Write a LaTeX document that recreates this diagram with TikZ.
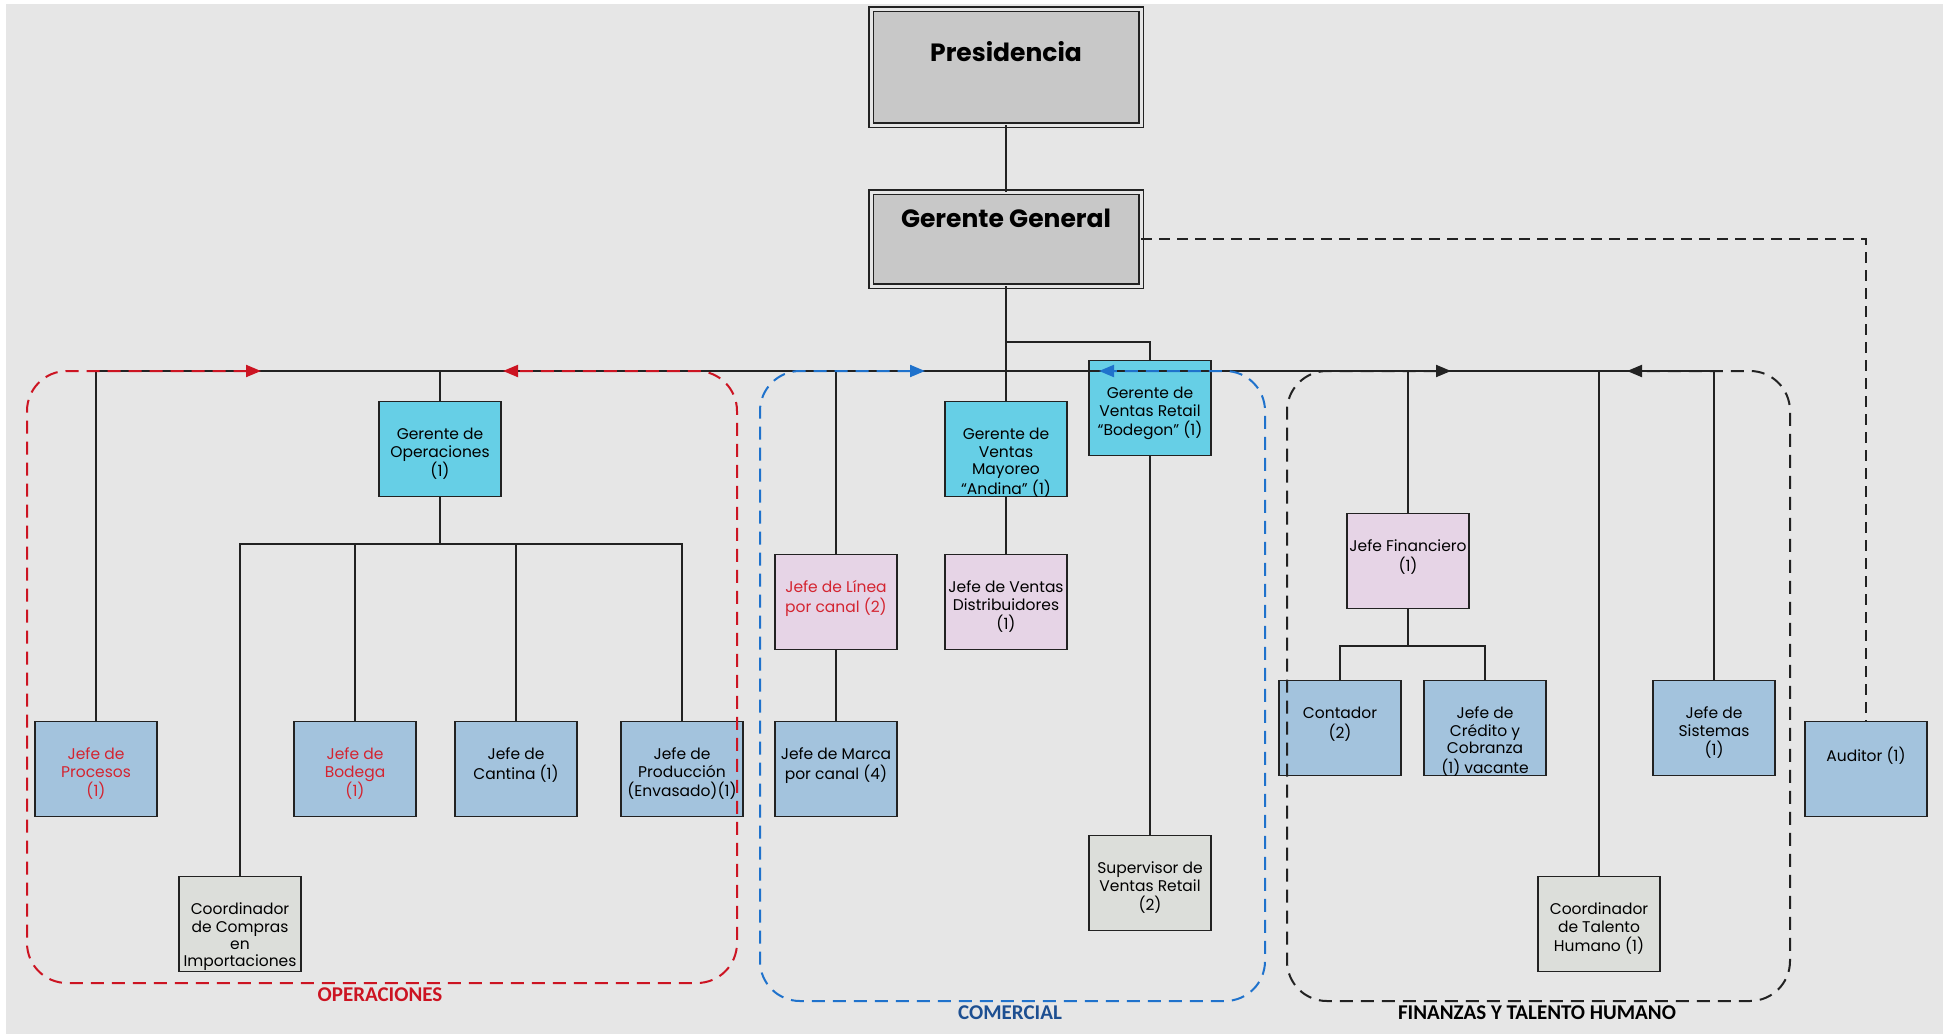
\documentclass[tikz,border=0pt]{standalone}
\usepackage{fontspec}
\setmainfont{Poppins}
\newfontfamily\capfont{Carlito}
\usetikzlibrary{arrows.meta}

\definecolor{bgc}{HTML}{E6E6E6}
\definecolor{gercol}{HTML}{66CFE6}
\definecolor{jefcol}{HTML}{A3C3DD}
\definecolor{pinkcol}{HTML}{E6D4E6}
\definecolor{grycol}{HTML}{DCDEDA}
\definecolor{topcol}{HTML}{C8C8C8}
\definecolor{opred}{HTML}{CC1422}
\definecolor{txtred}{HTML}{D42430}
\definecolor{comblue}{HTML}{1F72CC}
\definecolor{comlab}{HTML}{1D4F91}
\definecolor{edgecol}{HTML}{222222}

% text block: fixed-size box, lines centred and hung from the top
\newcommand\tbx[4]{\parbox[c][#1][t]{#2}{\vspace*{#3}\makebox[#2]{\begin{tabular}[t]{@{}c@{}}#4\end{tabular}}}}
\newcommand\tb[1]{\tbx{95pt}{122pt}{26pt}{#1}}

\begin{document}
\begin{tikzpicture}[x=1pt,y=-1pt,
  unit/.style={draw=edgecol, line width=1.4pt, inner sep=0pt, outer sep=0pt,
    minimum width=122pt, minimum height=95pt,
    font=\fontsize{15.5}{17.4}\selectfont},
  gerbox/.style={unit, fill=gercol},
  jefbox/.style={unit, fill=jefcol},
  pinkbox/.style={unit, fill=pinkcol},
  grybox/.style={unit, fill=grycol},
  topbox/.style={draw=edgecol, line width=1.5pt, double=gray!20, double distance=3pt,
    fill=topcol, inner sep=0pt, outer sep=0pt,
    font=\bfseries\fontsize{25}{30}\selectfont},
  link/.style={draw=edgecol, line width=1.6pt},
  frame/.style={line width=2pt, dash pattern=on 13pt off 8pt, rounded corners=40pt,
    {Triangle[length=15pt,width=12pt]}-{Triangle[length=15pt,width=12pt]}},
  grouplabel/.style={font=\capfont\bfseries\fontsize{21}{24}\selectfont}
]
% background
\fill[white] (0,0) rectangle (1948,1034);
\fill[bgc] (6,4) rectangle (1943,1034);
\useasboundingbox (0,0) rectangle (1948,1034);

% top of the hierarchy
\node[topbox, minimum width=270pt, minimum height=116pt] (presid) at (1006,67)
  {\tbx{116pt}{270pt}{31pt}{Presidencia}};
\node[topbox, minimum width=270pt, minimum height=94pt] (gg) at (1006,239)
  {\tbx{94pt}{270pt}{14pt}{Gerente General}};

% operaciones
\node[gerbox] (gop) at (440,449) {\tb{Gerente de\\Operaciones\\(1)}};
\node[jefbox, text=txtred] (jproc) at (96,769) {\tb{Jefe de\\Procesos\\(1)}};
\node[jefbox, text=txtred] (jbod) at (355,769) {\tb{Jefe de\\Bodega\\(1)}};
\node[jefbox] (jcant) at (516,769) {\tb{Jefe de\\Cantina (1)}};
\node[jefbox] (jprod) at (682,769) {\tb{Jefe de\\Producción\\(Envasado)(1)}};
\node[grybox] (ccomp) at (240,924) {\tb{Coordinador\\de Compras\\en\\Importaciones}};

% comercial
\node[pinkbox, text=txtred] (jlin) at (836,602) {\tb{Jefe de Línea\\por canal (2)}};
\node[jefbox] (jmar) at (836,769) {\tb{Jefe de Marca\\por canal (4)}};
\node[gerbox] (gmay) at (1006,449) {\tb{Gerente de\\Ventas\\Mayoreo\\“Andina” (1)}};
\node[pinkbox] (jvd) at (1006,602) {\tb{Jefe de Ventas\\Distribuidores\\(1)}};
\node[gerbox] (gret) at (1150,408) {\tb{Gerente de\\Ventas Retail\\“Bodegon” (1)}};
\node[grybox] (sup) at (1150,883) {\tb{Supervisor de\\Ventas Retail\\(2)}};

% finanzas y talento humano
\node[pinkbox] (jfin) at (1408,561) {\tb{Jefe Financiero\\(1)}};
\node[jefbox] (cont) at (1340,728) {\tb{Contador\\(2)}};
\node[jefbox] (jcred) at (1485,728) {\tb{Jefe de\\Crédito y\\Cobranza\\(1) vacante}};
\node[jefbox] (jsis) at (1714,728) {\tb{Jefe de\\Sistemas\\(1)}};
\node[grybox] (ctal) at (1599,924) {\tb{Coordinador\\de Talento\\Humano (1)}};
\node[jefbox] (aud) at (1866,769) {\tb{Auditor (1)}};

% junction points
\coordinate (barL) at (96,371);
\coordinate (barR) at (1714,371);
\coordinate (gj) at (1006,342);
\coordinate (obus) at (440,544);
\coordinate (fbus) at (1408,646);

% reporting lines
\draw[link] (presid) -- (gg);
\draw[link] (gg.south) -- (gmay.north);
\draw[link] (gj) -| (gret.north);
\draw[link] (jproc.north) -- (barL) -- (barR) -- (jsis.north);
\draw[link] (gop.north) -- (gop.north |- barL);
\draw[link] (jlin.north) -- (jlin.north |- barL);
\draw[link] (jfin.north) -- (jfin.north |- barL);
\draw[link] (ctal.north) -- (ctal.north |- barL);
\draw[link] (gop.south) -- (obus);
\draw[link] (ccomp.north) -- (ccomp.north |- obus) -- (jprod.north |- obus) -- (jprod.north);
\draw[link] (jbod.north) -- (jbod.north |- obus);
\draw[link] (jcant.north) -- (jcant.north |- obus);
\draw[link] (jlin.south) -- (jmar.north);
\draw[link] (gmay.south) -- (jvd.north);
\draw[link] (gret.south) -- (sup.north);
\draw[link] (jfin.south) -- (fbus);
\draw[link] (cont.north) -- (cont.north |- fbus) -- (jcred.north |- fbus) -- (jcred.north);
\draw[link, dash pattern=on 11pt off 7pt] (gg.east) -| (aud.north);

% area frames
\draw[frame, opred] (261,371) -- (27,371) -- (27,983) -- (737,983) -- (737,371) -- (503,371);
\draw[frame, comblue] (925,371) -- (760,371) -- (760,1001) -- (1265,1001) -- (1265,371) -- (1099,371);
\draw[frame, edgecol] (1451,371) -- (1287,371) -- (1287,1001) -- (1790,1001) -- (1790,371) -- (1627,371);

% area names
\node[grouplabel, text=opred] (lop) at (380,995) {OPERACIONES};
\node[grouplabel, text=comlab] (lcom) at (1010,1013) {COMERCIAL};
\node[grouplabel, text=black] (lfin) at (1537,1013) {FINANZAS Y TALENTO HUMANO};
\end{tikzpicture}
\end{document}
